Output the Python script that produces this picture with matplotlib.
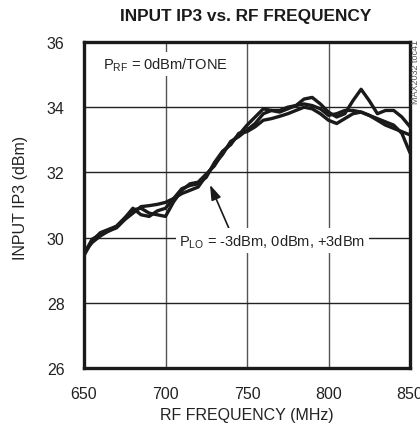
import matplotlib
matplotlib.use("Agg")
import matplotlib.pyplot as plt

FONT = ['Liberation Sans Narrow', 'Liberation Sans', 'DejaVu Sans']
plt.rcParams['font.family'] = FONT
plt.rcParams['mathtext.fontset'] = 'custom'
plt.rcParams['mathtext.rm'] = 'Liberation Sans'

freq = [650, 655, 660, 665, 670, 675, 680, 685, 690, 695, 700, 705, 710, 715, 720,
        725, 730, 735, 740, 745, 750, 755, 760, 765, 770, 775, 780, 785, 790, 795,
        800, 805, 810, 815, 820, 825, 830, 835, 840, 845, 850]

ip3_m3 = [29.45, 29.90, 30.15, 30.25, 30.35, 30.60, 30.85, 30.90, 30.75, 30.70, 30.65,
          31.10, 31.45, 31.65, 31.70, 31.95, 32.20, 32.60, 32.90, 33.15, 33.45, 33.70,
          33.95, 33.90, 33.85, 33.95, 34.05, 34.10, 34.05, 33.95, 33.75, 33.80, 33.90,
          33.90, 33.85, 33.75, 33.65, 33.55, 33.45, 33.20, 32.60]
ip3_0 = [29.50, 29.95, 30.10, 30.20, 30.30, 30.55, 30.75, 30.95, 30.98, 31.02, 31.08,
         31.20, 31.35, 31.45, 31.55, 31.90, 32.25, 32.55, 32.95, 33.10, 33.30, 33.50,
         33.80, 33.90, 33.90, 34.00, 34.05, 34.25, 34.30, 34.10, 33.85, 33.70, 33.80,
         34.20, 34.55, 34.20, 33.80, 33.90, 33.90, 33.70, 33.40]
ip3_p3 = [29.55, 29.85, 30.05, 30.20, 30.35, 30.60, 30.90, 30.70, 30.65, 30.82, 30.90,
          31.20, 31.50, 31.60, 31.65, 31.85, 32.30, 32.65, 32.85, 33.20, 33.25, 33.40,
          33.60, 33.65, 33.72, 33.80, 33.90, 34.00, 33.95, 33.80, 33.60, 33.50, 33.65,
          33.80, 33.85, 33.75, 33.60, 33.45, 33.35, 33.25, 33.15]

xticks = [650, 700, 750, 800, 850]
yticks = [26, 28, 30, 32, 34, 36]

fig = plt.figure(figsize=(4.2, 4.31), dpi=100)
ax = fig.add_axes([84/420, 1 - 369/431, 326/420, 326/431])

for v in [700, 750, 800]:
    ax.axvline(v, color='#555555', lw=1.0, zorder=1)
for v in [28, 30, 32, 34]:
    ax.axhline(v, color='#222222', lw=1.0, zorder=1)

for s in (ip3_m3, ip3_0, ip3_p3):
    ax.plot(freq, s, color='#1a1a1a', lw=2.4, zorder=3, solid_capstyle='round')

ax.set_xlim(650, 850)
ax.set_ylim(26, 36)
ax.set_xticks(xticks)
ax.set_yticks(yticks)
ax.tick_params(length=0, labelsize=11.5, pad=14, colors='#222222')
ax.tick_params(axis='x', pad=13)
for sp in ax.spines.values():
    sp.set_linewidth(2.4)
    sp.set_color('#1a1a1a')
    sp.set_zorder(5)

ax.text(661.5, 35.33, r'P$_{\mathregular{RF}}$ = 0dBm/TONE', fontsize=10.5, va='center', ha='left',
        color='#222222', zorder=4,
        bbox=dict(boxstyle='square,pad=0.2', fc='white', ec='none'))

ax.annotate('', xy=(727.3, 31.62), xytext=(739.1, 30.26),
            arrowprops=dict(arrowstyle='-|>,head_length=0.9,head_width=0.3', color='#1a1a1a',
                            lw=1.2, shrinkA=0, shrinkB=0), zorder=4)
ax.text(708.5, 29.9, r'P$_{\mathregular{LO}}$ = -3dBm, 0dBm, +3dBm', fontsize=10.5, va='center',
        ha='left', color='#222222', zorder=4,
        bbox=dict(boxstyle='square,pad=0.25', fc='white', ec='none'))

fig.text(246/420, 1 - 16/431, 'INPUT IP3 vs. RF FREQUENCY', fontsize=12.4, fontweight='bold',
         ha='center', va='center', color='#1a1a1a')
fig.text(247/420, 1 - 416/431, 'RF FREQUENCY (MHz)', fontsize=11.5, ha='center', va='center',
         color='#222222')
fig.text(21/420, 1 - 198/431, 'INPUT IP3 (dBm)', fontsize=11.5, ha='center', va='center',
         rotation=90, color='#222222')
fig.text(416/420, 1 - 72/431, 'MAX2032 toc41', fontsize=6.5, ha='center', va='center',
         rotation=90, color='#555555')

fig.savefig('out.png', dpi=100)
